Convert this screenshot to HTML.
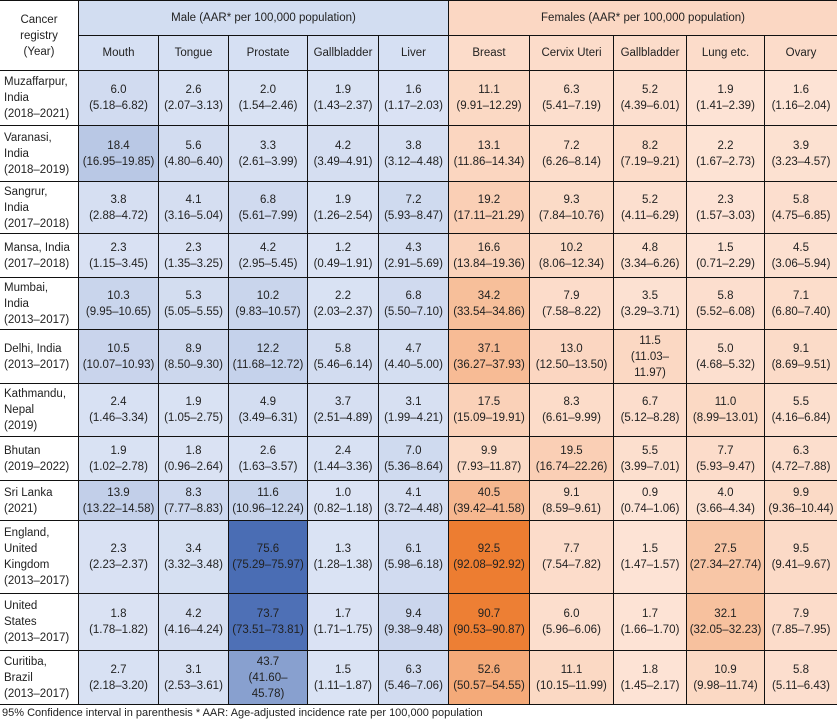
<!DOCTYPE html>
<html><head><meta charset="utf-8">
<style>
body{margin:0;width:837px;height:723px;background:#fff;font-family:"Liberation Sans",sans-serif;color:#222;overflow:hidden}
#t{position:absolute;left:0;top:0;width:837px;height:723px}
.c{position:absolute;box-sizing:border-box;border-right:1px solid #111;border-bottom:1px solid #111;display:flex;flex-direction:column;justify-content:center;align-items:center;text-align:center;font-size:11.5px;line-height:16px}
.rh{align-items:flex-start;text-align:left;padding-left:4px}
.foot{position:absolute;left:2px;top:707px;font-size:11px}
</style></head><body>
<div id="t"></div>
<div class="foot">95% Confidence interval in parenthesis * AAR: Age-adjusted incidence rate per 100,000 population</div>
<script>
const registries=["Muzaffarpur,<br>India<br>(2018–2021)","Varanasi,<br>India<br>(2018–2019)","Sangrur,<br>India<br>(2017–2018)","Mansa, India<br>(2017–2018)","Mumbai,<br>India<br>(2013–2017)","Delhi, India<br>(2013–2017)","Kathmandu,<br>Nepal<br>(2019)","Bhutan<br>(2019–2022)","Sri Lanka<br>(2021)","England,<br>United<br>Kingdom<br>(2013–2017)","United<br>States<br>(2013–2017)","Curitiba,<br>Brazil<br>(2013–2017)"];
const maleCols=["Mouth","Tongue","Prostate","Gallbladder","Liver"];
const femaleCols=["Breast","Cervix Uteri","Gallbladder","Lung etc.","Ovary"];
const values=[
[6.0,2.6,2.0,1.9,1.6,11.1,6.3,5.2,1.9,1.6],
[18.4,5.6,3.3,4.2,3.8,13.1,7.2,8.2,2.2,3.9],
[3.8,4.1,6.8,1.9,7.2,19.2,9.3,5.2,2.3,5.8],
[2.3,2.3,4.2,1.2,4.3,16.6,10.2,4.8,1.5,4.5],
[10.3,5.3,10.2,2.2,6.8,34.2,7.9,3.5,5.8,7.1],
[10.5,8.9,12.2,5.8,4.7,37.1,13.0,11.5,5.0,9.1],
[2.4,1.9,4.9,3.7,3.1,17.5,8.3,6.7,11.0,5.5],
[1.9,1.8,2.6,2.4,7.0,9.9,19.5,5.5,7.7,6.3],
[13.9,8.3,11.6,1.0,4.1,40.5,9.1,0.9,4.0,9.9],
[2.3,3.4,75.6,1.3,6.1,92.5,7.7,1.5,27.5,9.5],
[1.8,4.2,73.7,1.7,9.4,90.7,6.0,1.7,32.1,7.9],
[2.7,3.1,43.7,1.5,6.3,52.6,11.1,1.8,10.9,5.8]];
const intervals=[
["5.18–6.82","2.07–3.13","1.54–2.46","1.43–2.37","1.17–2.03","9.91–12.29","5.41–7.19","4.39–6.01","1.41–2.39","1.16–2.04"],
["16.95–19.85","4.80–6.40","2.61–3.99","3.49–4.91","3.12–4.48","11.86–14.34","6.26–8.14","7.19–9.21","1.67–2.73","3.23–4.57"],
["2.88–4.72","3.16–5.04","5.61–7.99","1.26–2.54","5.93–8.47","17.11–21.29","7.84–10.76","4.11–6.29","1.57–3.03","4.75–6.85"],
["1.15–3.45","1.35–3.25","2.95–5.45","0.49–1.91","2.91–5.69","13.84–19.36","8.06–12.34","3.34–6.26","0.71–2.29","3.06–5.94"],
["9.95–10.65","5.05–5.55","9.83–10.57","2.03–2.37","5.50–7.10","33.54–34.86","7.58–8.22","3.29–3.71","5.52–6.08","6.80–7.40"],
["10.07–10.93","8.50–9.30","11.68–12.72","5.46–6.14","4.40–5.00","36.27–37.93","12.50–13.50","11.03–<br>11.97","4.68–5.32","8.69–9.51"],
["1.46–3.34","1.05–2.75","3.49–6.31","2.51–4.89","1.99–4.21","15.09–19.91","6.61–9.99","5.12–8.28","8.99–13.01","4.16–6.84"],
["1.02–2.78","0.96–2.64","1.63–3.57","1.44–3.36","5.36–8.64","7.93–11.87","16.74–22.26","3.99–7.01","5.93–9.47","4.72–7.88"],
["13.22–14.58","7.77–8.83","10.96–12.24","0.82–1.18","3.72–4.48","39.42–41.58","8.59–9.61","0.74–1.06","3.66–4.34","9.36–10.44"],
["2.23–2.37","3.32–3.48","75.29–75.97","1.28–1.38","5.98–6.18","92.08–92.92","7.54–7.82","1.47–1.57","27.34–27.74","9.41–9.67"],
["1.78–1.82","4.16–4.24","73.51–73.81","1.71–1.75","9.38–9.48","90.53–90.87","5.96–6.06","1.66–1.70","32.05–32.23","7.85–7.95"],
["2.18–3.20","2.53–3.61","41.60–<br>45.78","1.11–1.87","5.46–7.06","50.57–54.55","10.15–11.99","1.45–2.17","9.98–11.74","5.11–6.43"]];
const xs=[0,79,159,229,308,379,449,530,614,687,765,837];
const ys=[1,36,71,126,182,234,278,330,384,437,481,521,594,651,705];
const T=document.getElementById('t');
function mix(a,b,t){return 'rgb('+a.map((v,i)=>Math.round(v+(b[i]-v)*t)).join(',')+')';}
function color(v,female){return female?mix([253,229,216],[237,125,49],Math.min(1,v/92.5)):mix([221,229,245],[74,109,180],Math.min(1,v/75.6));}
function cell(x0,y0,x1,y1,html,bg,cls){const d=document.createElement('div');d.className='c '+(cls||'');d.style.left=x0+'px';d.style.top=y0+'px';d.style.width=(x1-x0)+'px';d.style.height=(y1-y0)+'px';d.style.background=bg;d.innerHTML=html;T.appendChild(d);return d;}
const topBorder=document.createElement('div');


topBorder.style.cssText='position:absolute;left:0;top:0;width:837px;height:1px;background:#111';
T.appendChild(topBorder);
let h=cell(0,ys[0],xs[1],ys[2],'Cancer<br>registry<br>(Year)','#fff');


h=cell(xs[1],ys[0],xs[6],ys[1],'Male (AAR* per 100,000 population)','#d2ddf1');


h=cell(xs[6],ys[0],838,ys[1],'Females (AAR* per 100,000 population)','#fbd7c3');


maleCols.concat(femaleCols).forEach((n,j)=>{
 const e=cell(xs[j+1],ys[1],j==9?838:xs[j+2],ys[2],n,j<5?'#d6e0f3':'#fcdcca');
 
 
});
registries.forEach((r,i)=>{
 const e=cell(0,ys[i+2],xs[1],ys[i+3],r,'#fff','rh');
 
 
 values[i].forEach((v,j)=>{
  const c=cell(xs[j+1],ys[i+2],j==9?838:xs[j+2],ys[i+3],v.toFixed(1)+'<br>('+intervals[i][j]+')',color(v,j>=5));
  
  
 });
});
</script>
</body></html>
